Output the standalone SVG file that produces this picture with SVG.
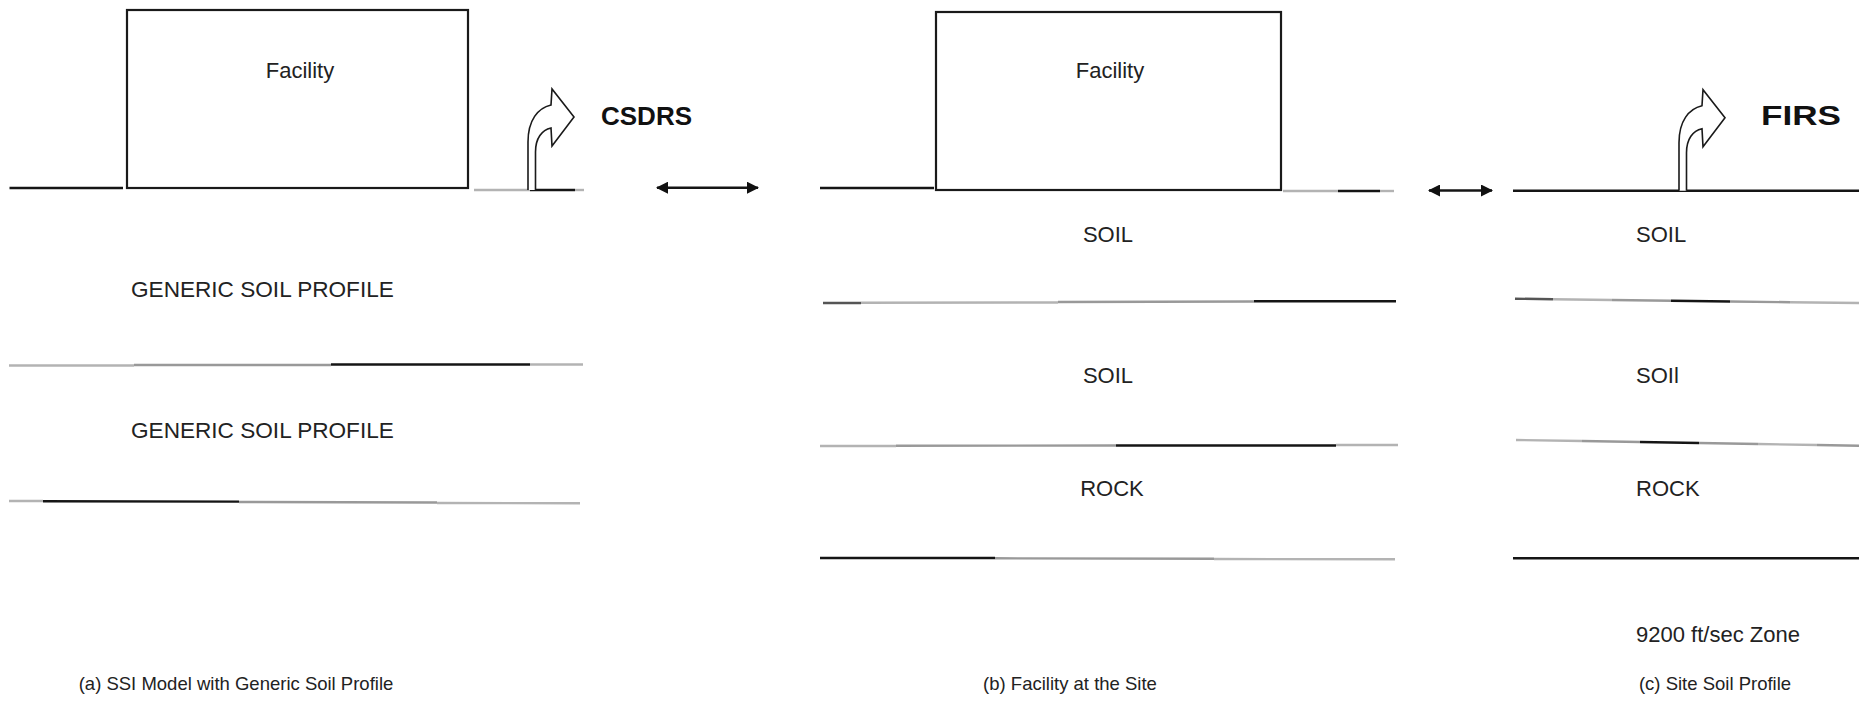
<svg xmlns="http://www.w3.org/2000/svg" width="1859" height="728" viewBox="0 0 1859 728">
<style>
  text { font-family: "Liberation Sans", Arial, sans-serif; font-size: 22px; fill: #222; }
  .bold { font-weight: bold; fill: #111; }
  .cap { font-size: 18.5px; }
  .box { fill: #fff; stroke: #1a1a1a; stroke-width: 2.2; }
  .g { fill: none; stroke-width: 2.4; stroke-linecap: butt; }
  .k { stroke: #151515; }
  .d { stroke: #555; }
  .m { stroke: #999; }
  .l { stroke: #b3b3b3; }
  .bent { fill: #fff; stroke: #1a1a1a; stroke-width: 1.6; stroke-linejoin: miter; }
  .dbl { stroke: #151515; stroke-width: 2.4; fill: none; }
</style>
<defs>
  <marker id="ah" viewBox="0 0 12 12" refX="11" refY="6" markerWidth="12" markerHeight="12" markerUnits="userSpaceOnUse" orient="auto-start-reverse">
    <path d="M0,0 L12,6 L0,12 Z" fill="#111"/>
  </marker>
  <path id="bentArrow" class="bent" d="M0,0 L0,-48 C0,-70 10,-82 23,-85 L24,-101 L46,-73 L24,-44 L23,-62 C14,-60 7.5,-52 7.5,-38 L7.5,0"/>
</defs>
<rect width="1859" height="728" fill="#fff"/>

<!-- Panel (a) -->
<g id="panel-a">
  <g id="ground-a">
    <line class="g k" x1="9.5" y1="188" x2="123" y2="188"/>
    <line class="g l" x1="474" y1="190" x2="530" y2="190"/>
    <line class="g k" x1="530" y1="190" x2="575" y2="190"/>
    <line class="g l" x1="575" y1="190" x2="584" y2="190"/>
  </g>
  <g id="facility-a">
    <rect class="box" x="127" y="10" width="341" height="178"/>
    <text x="300" y="78" text-anchor="middle">Facility</text>
  </g>
  <g id="generic-layer-1">
    <text x="131" y="297" style="font-size:22.6px">GENERIC SOIL PROFILE</text>
    <line class="g l" x1="9" y1="365.5" x2="134" y2="365.5"/>
    <line class="g m" x1="134" y1="365" x2="331" y2="365"/>
    <line class="g k" x1="331" y1="364.5" x2="530" y2="364.5"/>
    <line class="g l" x1="530" y1="364.5" x2="583" y2="364.5"/>
  </g>
  <g id="generic-layer-2">
    <text x="131" y="438" style="font-size:22.6px">GENERIC SOIL PROFILE</text>
    <line class="g l" x1="9" y1="501" x2="43" y2="501"/>
    <line class="g k" x1="43" y1="501.3" x2="239" y2="501.6"/>
    <line class="g m" x1="239" y1="502" x2="437" y2="502.5"/>
    <line class="g l" x1="437" y1="503" x2="580" y2="503.2"/>
  </g>
  <g id="csdrs">
    <use href="#bentArrow" transform="translate(528,190)"/>
    <text class="bold" x="601" y="125" style="font-size:26px">CSDRS</text>
  </g>
  <text id="caption-a" class="cap" x="236" y="690" text-anchor="middle">(a) SSI Model with Generic Soil Profile</text>
</g>

<!-- Panel (b) -->
<g id="panel-b">
  <g id="ground-b">
    <line class="g k" x1="820" y1="188" x2="934" y2="188"/>
    <line class="g l" x1="1283" y1="191" x2="1338" y2="191"/>
    <line class="g k" x1="1338" y1="191" x2="1380" y2="191"/>
    <line class="g l" x1="1380" y1="191" x2="1394" y2="191"/>
  </g>
  <g id="facility-b">
    <rect class="box" x="936" y="12" width="345" height="178"/>
    <text x="1110" y="78" text-anchor="middle">Facility</text>
  </g>
  <g id="soil-b1">
    <text x="1108" y="242" text-anchor="middle">SOIL</text>
    <line class="g d" x1="823" y1="303" x2="861" y2="303"/>
    <line class="g l" x1="861" y1="302.8" x2="1058" y2="302.5"/>
    <line class="g m" x1="1058" y1="302" x2="1254" y2="301.5"/>
    <line class="g k" x1="1254" y1="301.2" x2="1396" y2="301.2"/>
  </g>
  <g id="soil-b2">
    <text x="1108" y="383" text-anchor="middle">SOIL</text>
    <line class="g l" x1="820" y1="446" x2="896" y2="446"/>
    <line class="g m" x1="896" y1="445.8" x2="1116" y2="445.5"/>
    <line class="g k" x1="1116" y1="445.5" x2="1336" y2="445.5"/>
    <line class="g l" x1="1336" y1="445" x2="1398" y2="445"/>
  </g>
  <g id="rock-b">
    <text x="1112" y="496" text-anchor="middle">ROCK</text>
    <line class="g k" x1="820" y1="558" x2="995" y2="558"/>
    <line class="g m" x1="995" y1="558.3" x2="1214" y2="558.8"/>
    <line class="g l" x1="1214" y1="559" x2="1395" y2="559.3"/>
  </g>
  <text id="caption-b" class="cap" x="1070" y="690" text-anchor="middle">(b) Facility at the Site</text>
</g>

<!-- Panel (c) -->
<g id="panel-c">
  <g id="ground-c">
    <line class="g k" x1="1513" y1="190.7" x2="1859" y2="190.7"/>
  </g>
  <g id="firs">
    <use href="#bentArrow" transform="translate(1679,190.7)"/>
    <text class="bold" x="1761" y="125" style="font-size:28px" textLength="80" lengthAdjust="spacingAndGlyphs">FIRS</text>
  </g>
  <g id="soil-c1">
    <text x="1636" y="242">SOIL</text>
    <line class="g d" x1="1515" y1="298.7" x2="1553" y2="299.2"/>
    <line class="g l" x1="1553" y1="299.2" x2="1612" y2="300"/>
    <line class="g m" x1="1612" y1="300" x2="1671" y2="300.8"/>
    <line class="g k" x1="1671" y1="300.8" x2="1730" y2="301.5"/>
    <line class="g m" x1="1730" y1="301.5" x2="1790" y2="302.2"/>
    <line class="g l" x1="1790" y1="302.2" x2="1859" y2="303"/>
  </g>
  <g id="soil-c2">
    <text x="1636" y="383">SOIl</text>
    <line class="g l" x1="1516" y1="440" x2="1582" y2="441"/>
    <line class="g m" x1="1582" y1="441" x2="1640" y2="442"/>
    <line class="g k" x1="1640" y1="442" x2="1699" y2="443"/>
    <line class="g m" x1="1699" y1="443" x2="1758" y2="444"/>
    <line class="g l" x1="1758" y1="444" x2="1817" y2="445"/>
    <line class="g m" x1="1817" y1="445" x2="1859" y2="445.7"/>
  </g>
  <g id="rock-c">
    <text x="1636" y="496">ROCK</text>
    <line class="g k" x1="1513" y1="558.3" x2="1859" y2="558.3"/>
  </g>
  <g id="zone-c">
    <text x="1636" y="642">9200 ft/sec Zone</text>
  </g>
  <text id="caption-c" class="cap" x="1715" y="690" text-anchor="middle">(c) Site Soil Profile</text>
</g>

<!-- Connectors -->
<g id="connectors">
  <line class="dbl" x1="657" y1="187.7" x2="758" y2="187.7" marker-start="url(#ah)" marker-end="url(#ah)"/>
  <line class="dbl" x1="1429" y1="190.5" x2="1492" y2="190.5" marker-start="url(#ah)" marker-end="url(#ah)"/>
</g>
</svg>
